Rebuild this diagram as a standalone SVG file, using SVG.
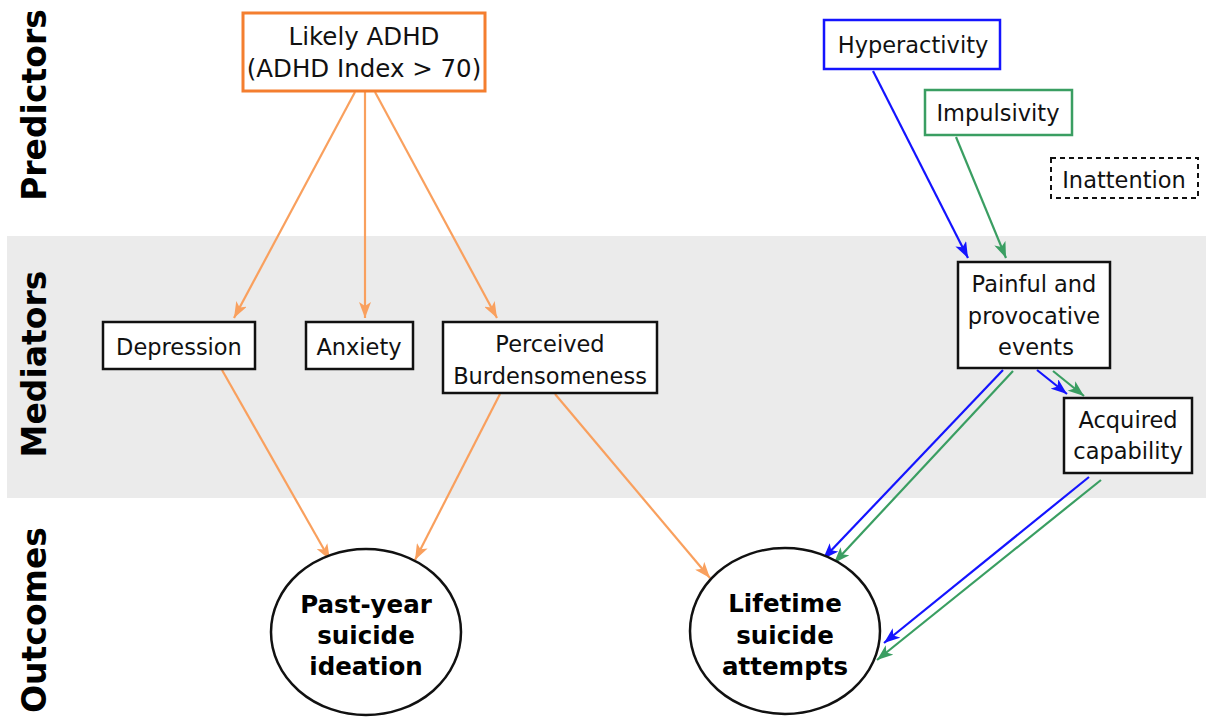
<svg xmlns="http://www.w3.org/2000/svg" width="1206" height="718" viewBox="0 0 1206 718">
<style>
  .lbl { font-family: "DejaVu Sans", Verdana, sans-serif; font-size: 22.5px; fill: #111; text-anchor: middle; }
  .big { font-size: 24.5px; }
  .out { font-family: "DejaVu Sans", Verdana, sans-serif; font-size: 24.5px; font-weight: bold; fill: #000; text-anchor: middle; }
  .side { font-family: "DejaVu Sans", Verdana, sans-serif; font-size: 33px; font-weight: bold; fill: #000; text-anchor: middle; }
  .box { fill: #fff; stroke: #111; stroke-width: 2.5; }
  .eo { fill: none; stroke: #f9a05e; stroke-width: 2.2; marker-end: url(#ao); }
  .eb { fill: none; stroke: #1414ff; stroke-width: 2.2; marker-end: url(#ab); }
  .eg { fill: none; stroke: #3a9e62; stroke-width: 2.2; marker-end: url(#ag); }
</style>
<defs>
  <marker id="ao" markerUnits="userSpaceOnUse" markerWidth="16" markerHeight="12" refX="16" refY="6" orient="auto"><path d="M0,0 L16,6 L0,12 L4,6 z" fill="#f9a05e"/></marker>
  <marker id="ab" markerUnits="userSpaceOnUse" markerWidth="16" markerHeight="12" refX="16" refY="6" orient="auto"><path d="M0,0 L16,6 L0,12 L4,6 z" fill="#1414ff"/></marker>
  <marker id="ag" markerUnits="userSpaceOnUse" markerWidth="16" markerHeight="12" refX="16" refY="6" orient="auto"><path d="M0,0 L16,6 L0,12 L4,6 z" fill="#3a9e62"/></marker>
</defs>
<rect width="1206" height="718" fill="#fff"/>
<rect x="7" y="236" width="1199" height="262" fill="#ebebeb"/>
<text class="side" transform="translate(46,105) rotate(-90)">Predictors</text>
<text class="side" transform="translate(46,364) rotate(-90)">Mediators</text>
<text class="side" transform="translate(46,620) rotate(-90)">Outcomes</text>

<g id="connectors">
  <line class="eo" x1="355" y1="92" x2="234" y2="318"/>
  <line class="eo" x1="365" y1="92" x2="365" y2="318"/>
  <line class="eo" x1="375" y1="92" x2="497" y2="318"/>
  <line class="eo" x1="222" y1="370" x2="330" y2="560"/>
  <line class="eo" x1="500" y1="394" x2="415" y2="560"/>
  <line class="eo" x1="555" y1="394" x2="710" y2="578"/>
  <line class="eb" x1="873" y1="71" x2="968" y2="258"/>
  <line class="eg" x1="956" y1="137" x2="1006" y2="258"/>
  <line class="eb" x1="1003" y1="370" x2="823" y2="559"/>
  <line class="eg" x1="1013" y1="371" x2="834" y2="563"/>
  <line class="eb" x1="1037" y1="370" x2="1067" y2="394"/>
  <line class="eg" x1="1053" y1="371" x2="1084" y2="396"/>
  <line class="eb" x1="1089" y1="477" x2="884" y2="643"/>
  <line class="eg" x1="1101" y1="480" x2="877" y2="660"/>
</g>

<g id="adhd">
  <rect x="243" y="13" width="242" height="78" fill="#fff" stroke="#f47e2f" stroke-width="3"/>
  <text class="lbl big" x="364" y="45">Likely ADHD</text>
  <text class="lbl big" x="364" y="77">(ADHD Index &gt; 70)</text>
</g>
<g id="hyperactivity">
  <rect x="824" y="20" width="176" height="49" fill="#fff" stroke="#1414ff" stroke-width="2.5"/>
  <text class="lbl" x="913" y="53">Hyperactivity</text>
</g>
<g id="impulsivity">
  <rect x="925" y="90" width="147" height="45" fill="#fff" stroke="#3a9e62" stroke-width="2.5"/>
  <text class="lbl" x="998" y="121">Impulsivity</text>
</g>
<g id="inattention">
  <rect x="1051" y="158" width="147" height="40" fill="#fff" stroke="#111" stroke-width="2" stroke-dasharray="5,4"/>
  <text class="lbl" x="1124" y="188">Inattention</text>
</g>
<g id="painful">
  <rect class="box" x="958" y="262" width="152" height="106"/>
  <text class="lbl" x="1034" y="292">Painful and</text>
  <text class="lbl" x="1034" y="324">provocative</text>
  <text class="lbl" x="1036" y="355">events</text>
</g>
<g id="acquired">
  <rect class="box" x="1064" y="398" width="128" height="75"/>
  <text class="lbl" x="1128" y="428">Acquired</text>
  <text class="lbl" x="1128" y="459">capability</text>
</g>
<g id="depression">
  <rect class="box" x="103" y="322" width="152" height="47"/>
  <text class="lbl" x="179" y="355">Depression</text>
</g>
<g id="anxiety">
  <rect class="box" x="306" y="322" width="107" height="47"/>
  <text class="lbl" x="359" y="355">Anxiety</text>
</g>
<g id="burdensomeness">
  <rect class="box" x="443" y="322" width="214" height="71"/>
  <text class="lbl" x="550" y="352">Perceived</text>
  <text class="lbl" x="550" y="384">Burdensomeness</text>
</g>
<g id="ideation">
  <ellipse cx="366" cy="632" rx="95" ry="83" fill="#fff" stroke="#111" stroke-width="2.5"/>
  <text class="out" x="366" y="613">Past-year</text>
  <text class="out" x="366" y="644">suicide</text>
  <text class="out" x="366" y="675">ideation</text>
</g>
<g id="attempts">
  <ellipse cx="785" cy="631" rx="95" ry="83" fill="#fff" stroke="#111" stroke-width="2.5"/>
  <text class="out" x="785" y="612">Lifetime</text>
  <text class="out" x="785" y="644">suicide</text>
  <text class="out" x="785" y="675">attempts</text>
</g>
</svg>
